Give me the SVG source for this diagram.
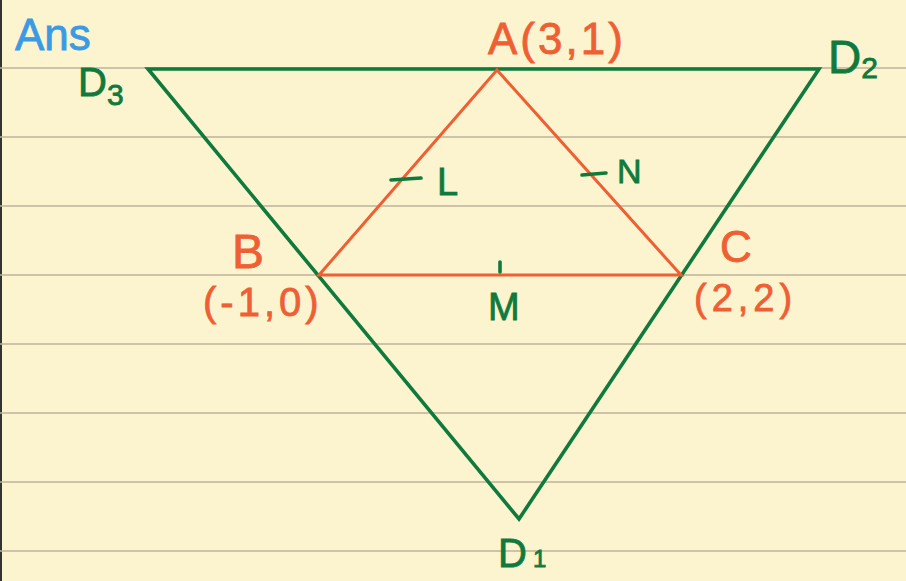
<svg xmlns="http://www.w3.org/2000/svg" width="906" height="581" viewBox="0 0 906 581">
<style>
.rule{stroke:#bcb39b;stroke-width:1.4}
.g{stroke:#0f7a3c;stroke-width:3.6;fill:none;stroke-linejoin:miter;stroke-linecap:round}
.r{stroke:#ef5f34;stroke-width:3;fill:none;stroke-linecap:round}
text{font-family:"Liberation Sans","DejaVu Sans",sans-serif;stroke-width:0.8}
.tg{fill:#0f7a3c;stroke:#0f7a3c}
.tr{fill:#ef5f34;stroke:#ef5f34}
.tb{fill:#3a9ae4;stroke:#3a9ae4}
</style>
<rect width="906" height="581" fill="#fbf4cf"/>
<rect x="0" y="0" width="2" height="581" fill="#333"/>
<g id="ruling">
<line class="rule" x1="0" y1="68" x2="906" y2="68"/>
<line class="rule" x1="0" y1="137" x2="906" y2="137"/>
<line class="rule" x1="0" y1="206" x2="906" y2="206"/>
<line class="rule" x1="0" y1="275" x2="906" y2="275"/>
<line class="rule" x1="0" y1="344" x2="906" y2="344"/>
<line class="rule" x1="0" y1="413" x2="906" y2="413"/>
<line class="rule" x1="0" y1="482" x2="906" y2="482"/>
<line class="rule" x1="0" y1="551" x2="906" y2="551"/>
</g>
<g id="connectors">
<polygon class="g" points="148,69 819,69 519,519"/>
<polygon class="r" points="497,70 319,275 681,275"/>
<line class="g" x1="391" y1="180" x2="421" y2="178" stroke-width="3"/>
<line class="g" x1="582" y1="175" x2="606" y2="173" stroke-width="3"/>
<line class="g" x1="500" y1="262" x2="500" y2="272" stroke-width="3"/>
</g>
<g id="ans"><text class="tb" x="15" y="50" font-size="44">Ans</text></g>
<g id="A"><text class="tr" x="488" y="54" font-size="44" letter-spacing="3">A(3,1)</text></g>
<g id="D2"><text class="tg" x="828" y="73" font-size="46">D<tspan font-size="30" dy="5">2</tspan></text></g>
<g id="D3"><text class="tg" x="78" y="96" font-size="40">D<tspan font-size="30" dy="9">3</tspan></text></g>
<g id="L"><text class="tg" x="437" y="195" font-size="38">L</text></g>
<g id="N"><text class="tg" x="617" y="183" font-size="34">N</text></g>
<g id="B"><text class="tr" x="232" y="268" font-size="48">B</text>
<text class="tr" x="203" y="316" font-size="40" letter-spacing="4">(-1,0)</text></g>
<g id="M"><text class="tg" x="488" y="320" font-size="38">M</text></g>
<g id="C"><text class="tr" x="720" y="262" font-size="44">C</text>
<text class="tr" x="694" y="311" font-size="38" letter-spacing="5">(2,2)</text></g>
<g id="D1"><text class="tg" x="498" y="567" font-size="40">D<tspan font-size="24" dx="6">1</tspan></text></g>
</svg>
